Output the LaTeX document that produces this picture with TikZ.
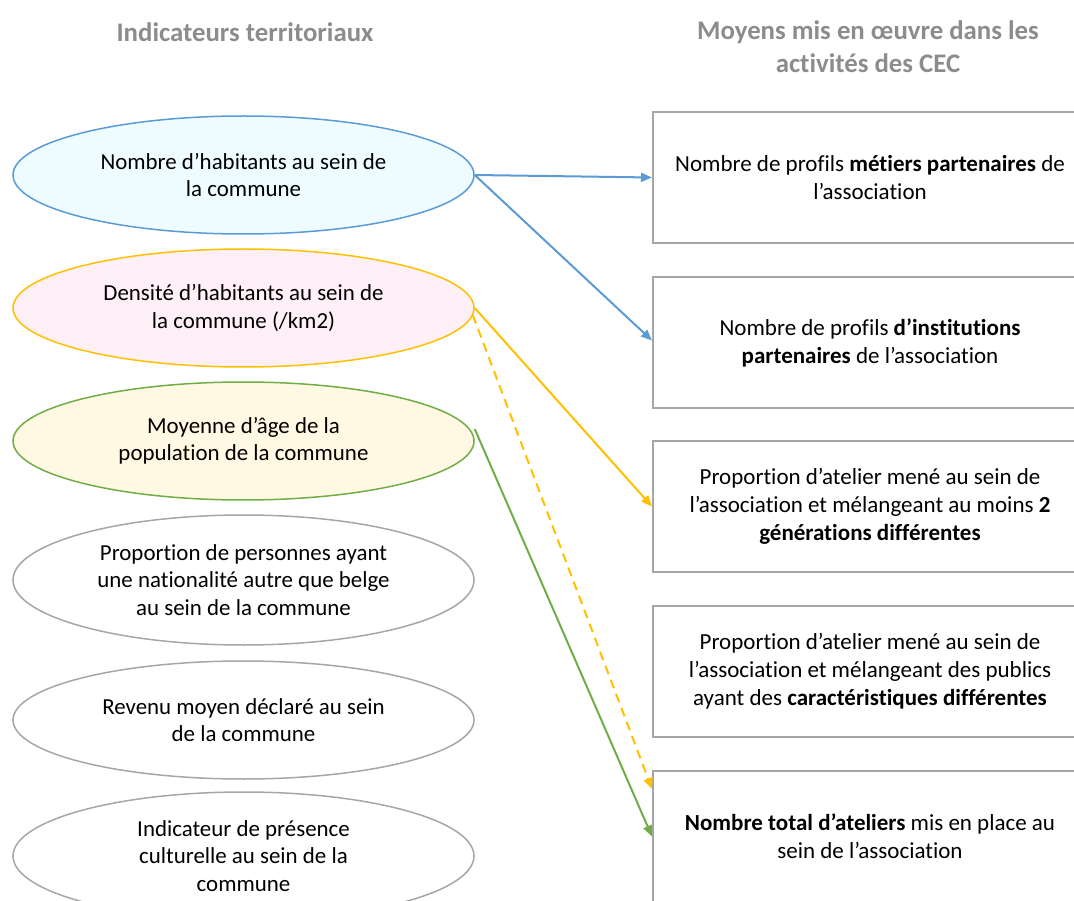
\documentclass[tikz,border=0pt]{standalone}
\usepackage{fontspec}
\setmainfont[Ligatures=NoCommon]{Carlito}
\usetikzlibrary{arrows.meta,calc,shapes.geometric}
\definecolor{cblue}{HTML}{5B9BD5}
\definecolor{cyel}{HTML}{FFC000}
\definecolor{cgreen}{HTML}{70AD47}
\definecolor{cgray}{HTML}{A6A6A6}
\definecolor{ctitle}{HTML}{8C8C8C}
\definecolor{fblue}{HTML}{EEFCFF}
\definecolor{fpink}{HTML}{FFF0F8}
\definecolor{fyel}{HTML}{FFF8E2}
\tikzset{
  ell/.style={ellipse, draw=cgray, line width=1.5pt, minimum width=461pt, minimum height=118pt, inner sep=0pt, align=center, font=\fontsize{22.9}{27.5}\selectfont},
  box/.style={rectangle, draw=cgray, line width=2pt, minimum width=434pt, minimum height=131pt, inner sep=0pt, align=center, font=\fontsize{23}{28}\selectfont},
  ttl/.style={align=center, text=ctitle, font=\fontsize{26.8}{33}\selectfont\bfseries},
  arr/.style={line width=2pt, -{Triangle[length=11pt,width=9pt]}},
}
\begin{document}
\begin{tikzpicture}[x=1pt,y=-1pt]
\useasboundingbox (0,0) rectangle (1074,901);
\clip (0,0) rectangle (1074,901);
\node[ttl] (t1) at (245,32) {Indicateurs territoriaux};
\node[ttl] (t2) at (868,47) {Moyens mis en œuvre dans les\\activités des CEC};

\node[ell, draw=cblue, fill=fblue] (e1) at (243.5,175) {Nombre d’habitants au sein de\\la commune};
\node[ell, draw=cyel, fill=fpink] (e2) at (243.5,308) {Densité d’habitants au sein de\\la commune (/km2)};
\node[ell, draw=cgreen, fill=fyel] (e3) at (243.5,441) {Moyenne d’âge de la\\population de la commune};
\node[ell, minimum height=130pt] (e4) at (243.5,580) {Proportion de personnes ayant\\une nationalité autre que belge\\au sein de la commune};
\node[ell] (e5) at (243.5,720) {Revenu moyen déclaré au sein\\de la commune};
\node[ell, minimum height=128pt] (e6) at (243.5,856) {Indicateur de présence\\culturelle au sein de la\\commune};

\node[box] (b1) at (870,177.5) {Nombre de profils \textbf{métiers partenaires} de\\l’association};
\node[box] (b2) at (870,342.5) {Nombre de profils \textbf{d’institutions}\\\textbf{partenaires} de l’association};
\node[box] (b3) at (870,506.5) {Proportion d’atelier mené au sein de\\l’association et mélangeant au moins \textbf{2}\\\textbf{générations différentes}};
\node[box] (b4) at (870,671.5) {Proportion d’atelier mené au sein de\\l’association et mélangeant des publics\\ayant des \textbf{caractéristiques différentes}};
\node[box] (b5) at (870,836.5) {\textbf{Nombre total d’ateliers} mis en place au\\sein de l’association};

\draw[arr, cblue] (e1.east) -- (b1.west);
\draw[arr, cblue] (e1.east) -- ($(b2.west)+(0,-2)$);
\draw[arr, cyel] (e2.east) -- (b3.west);
\draw[arr, cyel, dash pattern=on 9pt off 6pt] ($(e2.east)+(-2,7)$) -- ($(b5.north west)+(0,19)$);
\draw[arr, cgreen] ($(e3.east)+(0,-12)$) -- (b5.west);
\end{tikzpicture}
\end{document}
